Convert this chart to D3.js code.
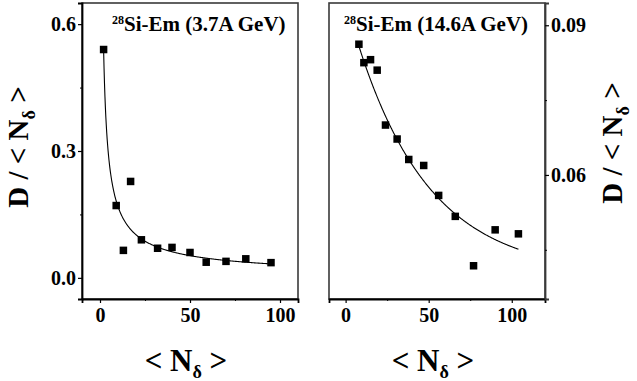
<!DOCTYPE html>
<html>
<head>
<meta charset="utf-8">
<script src="https://cdn.jsdelivr.net/npm/d3@7/dist/d3.min.js"></script>
<style>
  html, body { margin: 0; padding: 0; background: #fff; }
  svg { display: block; }
</style>
</head>
<body>
<svg id="chart" width="637" height="381"></svg>
<script>
// 28Si-Em at 3.7A GeV
const nLow = [2, 9, 13, 17, 23, 32, 40, 50, 59, 70, 81, 95];
const dLow = [0.54, 0.171, 0.065, 0.228, 0.090, 0.070, 0.072, 0.060, 0.037, 0.039, 0.045, 0.036];
// power-law fit  D/<N> = a * <N>^-b
const fitLow = { a: 0.54 * Math.pow(2, 0.724), b: 0.724, from: 2, to: 95 };

// 28Si-Em at 14.6A GeV
const nHigh = [8, 11, 15, 19, 24, 31, 38, 47, 56, 66, 77, 90, 104];
const dHigh = [0.0862, 0.0825, 0.0831, 0.0810, 0.0700, 0.0672, 0.0631, 0.0619, 0.0559, 0.0517, 0.0418, 0.0490, 0.0482];
// exponential fit  D/<N> = y0 + A * exp(-<N>/t)
const fitHigh = { y0: 0.040, A: 0.055, t: 43.8, from: 8, to: 104 };

const xTicks = [0, 50, 100];
const xMinor = [25, 75];
const yTicksLow = [0.0, 0.3, 0.6];
const yMinorLow = [0.15, 0.45];
const yTicksHigh = [0.06, 0.09];
const yMinorHigh = [0.045, 0.075];

const titleLow = "Si-Em (3.7A GeV)";
const titleHigh = "Si-Em (14.6A GeV)";

const FONT = "'Liberation Serif', 'Times New Roman', Times, serif";
const svg = d3.select("#chart");

function styleText(sel, size) {
  sel.style("font-family", FONT).style("font-weight", "bold")
     .style("font-size", size + "px").style("fill", "#000");
}

function panel(opts) {
  const { left, right, top, bottom, xDomain, yDomain, xs, ys, fitFn, fit,
          yTicks, yMinor, yFmt, axisSide, title, titleX } = opts;
  const x = d3.scaleLinear().domain(xDomain).range([left, right]);
  const y = d3.scaleLinear().domain(yDomain).range([bottom, top]);
  const g = svg.append("g");

  // frame
  g.append("rect")
    .attr("x", left).attr("y", top)
    .attr("width", right - left).attr("height", bottom - top)
    .attr("fill", "none").attr("stroke", "#3a3a3a").attr("stroke-width", 1.6);

  // bottom axis
  const xa = g.append("g").attr("transform", `translate(0,${bottom})`)
    .call(d3.axisBottom(x).tickValues(xTicks).tickSize(4).tickPadding(5).tickFormat(d3.format("d")));
  xa.select(".domain").attr("stroke", "#000").attr("stroke-width", 1.8);
  xa.selectAll(".tick line").attr("stroke-width", 1.2);
  styleText(xa.selectAll("text"), 20);
  g.append("g").attr("transform", `translate(0,${bottom})`)
    .call(d3.axisBottom(x).tickValues(xMinor).tickSize(2).tickFormat(""))
    .select(".domain").remove();

  // value axis
  const yAxisGen = axisSide === "left" ? d3.axisLeft : d3.axisRight;
  const ax = axisSide === "left" ? left : right;
  const ya = g.append("g").attr("transform", `translate(${ax},0)`)
    .call(yAxisGen(y).tickValues(yTicks).tickSize(4).tickPadding(2).tickFormat(yFmt));
  ya.select(".domain").attr("stroke", axisSide === "left" ? "#000" : "#3a3a3a").attr("stroke-width", 1.8);
  ya.selectAll(".tick line").attr("stroke-width", 1.2);
  styleText(ya.selectAll("text"), 20);
  g.append("g").attr("transform", `translate(${ax},0)`)
    .call(yAxisGen(y).tickValues(yMinor).tickSize(2).tickFormat(""))
    .select(".domain").remove();

  // fit curve
  const curve = d3.range(fit.from, fit.to + 0.001, 0.25).map(n => [n, fitFn(n)]);
  g.append("path")
    .datum(curve)
    .attr("fill", "none").attr("stroke", "#000").attr("stroke-width", 1.1)
    .attr("d", d3.line().x(d => x(d[0])).y(d => y(d[1])));

  // data points
  const sq = 7.5;
  g.selectAll("rect.pt").data(xs.map((n, i) => [n, ys[i]])).enter()
    .append("rect").attr("class", "pt")
    .attr("x", d => x(d[0]) - sq / 2).attr("y", d => y(d[1]) - sq / 2)
    .attr("width", sq).attr("height", sq).attr("fill", "#000");

  // title
  const t = g.append("text").attr("x", titleX).attr("y", 31);
  styleText(t, 21);
  styleText(t.append("tspan").attr("dy", -7).text("28"), 12);
  t.append("tspan").attr("dy", 7).text(title);

  // x label
  const cx = (left + right) / 2 - 4;
  const xl = g.append("text").attr("x", cx).attr("y", 371).attr("text-anchor", "middle");
  styleText(xl, 31);
  xl.append("tspan").text("< N");
  styleText(xl.append("tspan").attr("dy", 7).text("δ"), 18);
  xl.append("tspan").attr("dy", -7).text(" >");
}

function yLabel(xPos, yCenter) {
  const t = svg.append("text")
    .attr("transform", `translate(${xPos},${yCenter}) rotate(-90)`)
    .attr("text-anchor", "middle");
  styleText(t, 29);
  t.append("tspan").text("D / < N");
  styleText(t.append("tspan").attr("dy", 7).text("δ"), 18);
  t.append("tspan").attr("dy", -7).text(" >");
}

panel({
  left: 82, right: 298, top: 3, bottom: 299,
  xDomain: [-10, 110], yDomain: [-0.05, 0.65],
  xs: nLow, ys: dLow,
  fit: fitLow, fitFn: n => fitLow.a * Math.pow(n, -fitLow.b),
  yTicks: yTicksLow, yMinor: yMinorLow, yFmt: d3.format(".1f"),
  axisSide: "left", title: titleLow, titleX: 112
});

panel({
  left: 329, right: 545, top: 3, bottom: 299,
  xDomain: [-10, 120], yDomain: [0.03514, 0.09446],
  xs: nHigh, ys: dHigh,
  fit: fitHigh, fitFn: n => fitHigh.y0 + fitHigh.A * Math.exp(-n / fitHigh.t),
  yTicks: yTicksHigh, yMinor: yMinorHigh, yFmt: d3.format(".2f"),
  axisSide: "right", title: titleHigh, titleX: 344
});

yLabel(28, 147);
yLabel(622, 143);
</script>
</body>
</html>
